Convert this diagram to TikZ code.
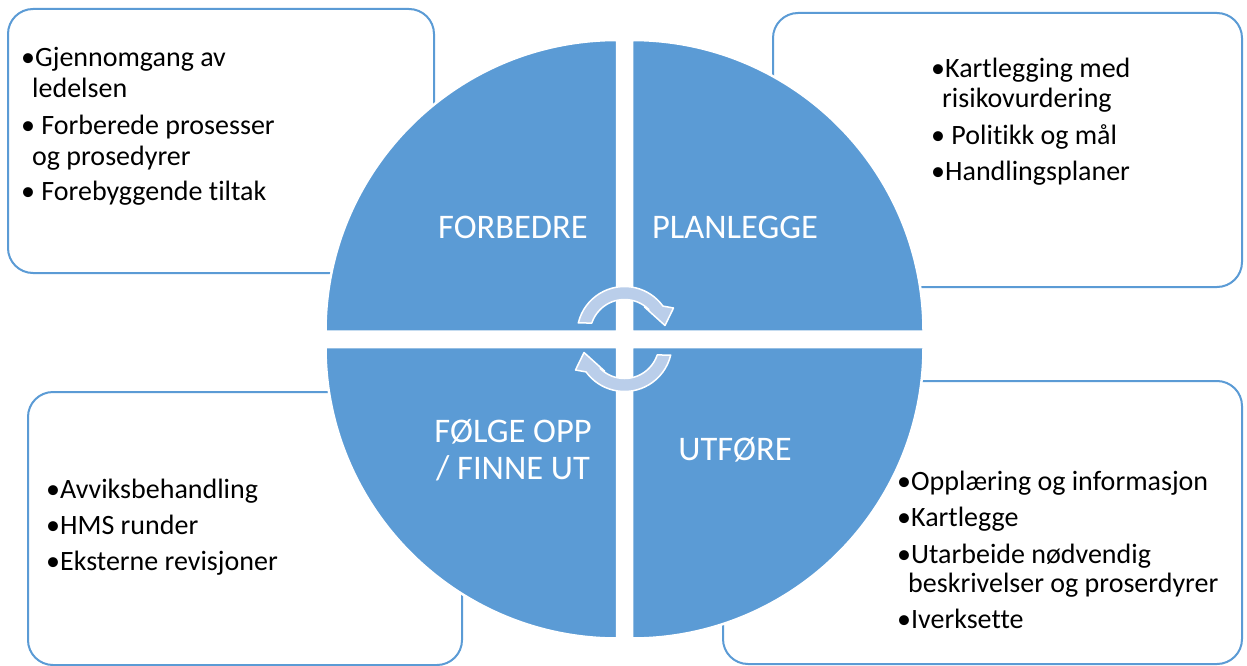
\documentclass[tikz,border=0pt]{standalone}
\usepackage{fontspec}
\setmainfont{Carlito}[Ligatures=NoCommon]
\definecolor{qblue}{RGB}{91,155,213}
\definecolor{arrblue}{RGB}{186,206,234}
\begin{document}
\begin{tikzpicture}[x=1pt,y=1pt,
  infobox/.style={draw=qblue,line width=2pt,rounded corners=25pt,fill=white},
  quad/.style={fill=qblue,draw=white,line width=2.5pt},
  qlabel/.style={text=white,font=\fontsize{34.5}{37}\selectfont,inner sep=0pt,anchor=base},
  item/.style={text=black,font=\fontsize{28}{30}\selectfont,inner sep=0pt,anchor=base west},
  cyc/.style={fill=arrblue,draw=white,line width=1.5pt,line join=round}]
\useasboundingbox (0,0) rectangle (1247,-666);
% boxes
\draw[infobox] (8,-9) rectangle (434,-273);
\draw[infobox] (773,-13) rectangle (1242,-287);
\draw[infobox] (28,-392) rectangle (462,-665);
\draw[infobox] (723,-381) rectangle (1242,-664);
% quadrants
\draw[quad] (617,-331.5) -- ++(-291.5,0) arc[start angle=180,end angle=90,radius=291.5pt] -- cycle;
\draw[quad] (632,-331.5) -- ++(0,291.5) arc[start angle=90,end angle=0,radius=291.5pt] -- cycle;
\draw[quad] (617,-347) -- ++(0,-291.5) arc[start angle=270,end angle=180,radius=291.5pt] -- cycle;
\draw[quad] (632,-347) -- ++(291.5,0) arc[start angle=0,end angle=-90,radius=291.5pt] -- cycle;
% quadrant labels
\node[qlabel] (lforb) at (513,-238) {FORBEDRE};
\node[qlabel] (lplan) at (735,-238) {PLANLEGGE};
\node[qlabel] (lfolg1) at (513,-442) {FØLGE OPP};
\node[qlabel] (lfolg2) at (513,-479) {/ FINNE UT};
\node[qlabel] (lutf) at (735,-460) {UTFØRE};
% cycle arrows
\begin{scope}[shift={(624.5,-334)}]
\draw[cyc] (166.5:47.5pt) arc[start angle=166.5,end angle=36,radius=47.5pt] -- (49,26) -- (40.5,8.5) -- (20,27) -- (45:34.5pt) arc[start angle=45,end angle=161.5,radius=34.5pt] -- cycle;
\end{scope}
\begin{scope}[rotate around={180:(624.5,-339)}]
\begin{scope}[shift={(624.5,-334)}]
\draw[cyc] (166.5:47.5pt) arc[start angle=166.5,end angle=36,radius=47.5pt] -- (49,26) -- (40.5,8.5) -- (20,27) -- (45:34.5pt) arc[start angle=45,end angle=161.5,radius=34.5pt] -- cycle;
\end{scope}
\end{scope}
% top-left items
\node[item] (tl1) at (21,-67) {\textbullet Gjennomgang av};
\node[item] (tl2) at (32,-98) {ledelsen};
\node[item] (tl3) at (21,-135) {\textbullet\ Forberede prosesser};
\node[item] (tl4) at (32,-165) {og prosedyrer};
\node[item] (tl5) at (21,-200) {\textbullet\ Forebyggende tiltak};
% top-right items
\node[item] (tr1) at (931,-78) {\textbullet Kartlegging med};
\node[item] (tr2) at (942,-108) {risikovurdering};
\node[item] (tr3) at (931,-145) {\textbullet\ Politikk og mål};
\node[item] (tr4) at (931,-180) {\textbullet Handlingsplaner};
% bottom-left items
\node[item] (bl1) at (46,-498) {\textbullet Avviksbehandling};
\node[item] (bl2) at (46,-534) {\textbullet HMS runder};
\node[item] (bl3) at (46,-570) {\textbullet Eksterne revisjoner};
% bottom-right items
\node[item] (br1) at (897,-490) {\textbullet Opplæring og informasjon};
\node[item] (br2) at (897,-526) {\textbullet Kartlegge};
\node[item] (br3) at (897,-563) {\textbullet Utarbeide nødvendig};
\node[item] (br4) at (908,-592) {beskrivelser og proserdyrer};
\node[item] (br5) at (897,-628) {\textbullet Iverksette};
\end{tikzpicture}
\end{document}
